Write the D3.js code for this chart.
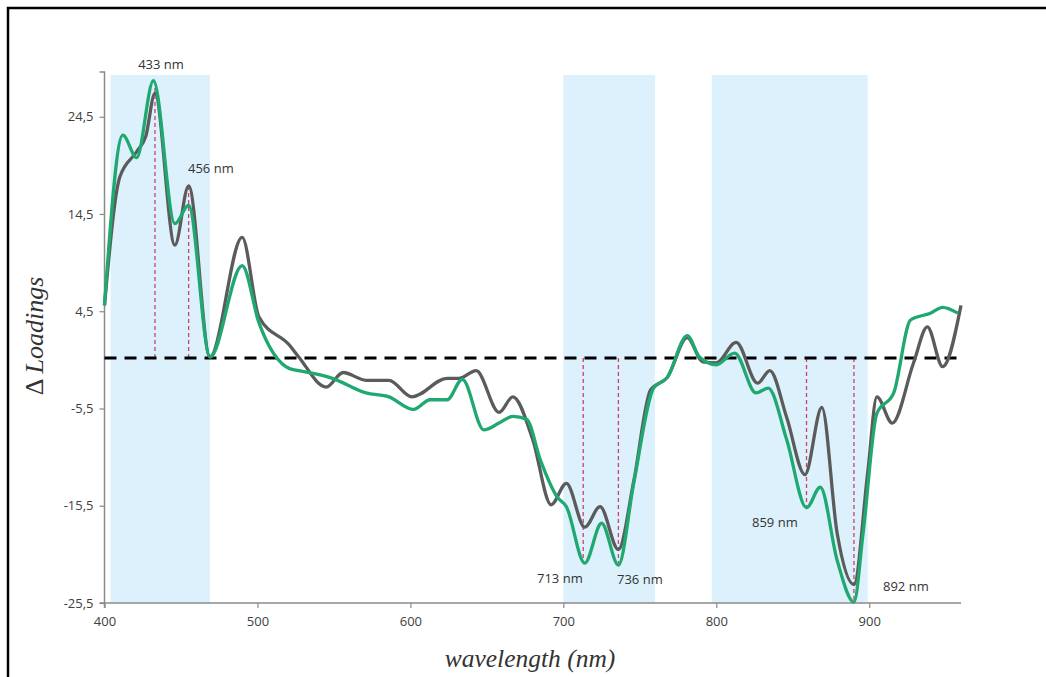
<!DOCTYPE html>
<html>
<head>
<meta charset="utf-8">
<script src="https://cdn.jsdelivr.net/npm/d3@7"></script>
<style>
body { margin:0; background:#fff; }
</style>
</head>
<body>
<svg id="chart" width="1046" height="677"></svg>
<script>
// grey series (knots)
var greyWl  = [400,410,421,427,433,446,455,469,490,501,521,527,545,556,571,586,601,624,632,643,658,667,680,692,702,714,724,736,746,757,768,781,791,800,813,827,835,846,858,869,879,890,899,905,915,929,938,948,960];
var greyVal = [5.1,18.3,20.9,22.5,26.9,11.3,17.4,-0.2,12.1,3.9,1.0,-0.2,-3.3,-1.8,-2.6,-2.6,-4.3,-2.4,-2.4,-1.6,-5.9,-4.3,-8.7,-15.4,-13.2,-17.7,-15.6,-20.0,-13.0,-3.6,-2.3,1.8,-0.7,-0.8,1.3,-2.9,-1.6,-6.4,-12.3,-5.4,-18.3,-23.6,-12.1,-4.3,-7.0,-0.8,2.9,-1.2,5.1];

// green series
var greenWl  = [400,412,421,432,446,455,469,490,501,521,527,549,571,586,602,613,624,634,648,658,667,676,685,696,702,714,725,736,746,759,768,781,789,800,812,826,834,846,859,868,879,890,896,905,916,927,940,948,958];
var greenVal = [5.1,22.6,20.3,28.2,13.5,15.4,-0.2,9.2,3.3,-1.4,-1.6,-2.4,-3.9,-4.3,-5.6,-4.6,-4.6,-2.5,-7.7,-7.0,-6.3,-6.6,-10.8,-14.6,-15.6,-21.4,-17.3,-21.6,-13.2,-3.4,-2.3,2.0,-0.2,-1.0,0.2,-3.9,-3.4,-8.7,-15.7,-13.6,-21.1,-25.4,-18.3,-6.0,-3.9,3.6,4.3,4.9,4.3];

// highlighted regions (nm)
var bandStart = [404,700,797];
var bandEnd   = [469,760,899];

// marked wavelengths and the value where the marker ends
var markWl  = [433,455,713,736,859,890];
var markEnd = [28.0,17.2,-21.2,-21.4,-15.6,-25.2];
var markLabel = ["433 nm","456 nm","713 nm","736 nm","859 nm","892 nm"];

var xTicks = [400,500,600,700,800,900];
var yTicks = [24.5,14.5,4.5,-5.5,-15.5,-25.5];
var refLevel = -0.3;

var sans = "'Open Sans', 'DejaVu Sans', sans-serif";
var serif = "'Liberation Serif', 'DejaVu Serif', serif";

var svg = d3.select("#chart");

// frame (only left and top edge visible in the crop)
svg.append("rect")
  .attr("x",8).attr("y",8)
  .attr("width",1100).attr("height",800)
  .attr("fill","none").attr("stroke","#000").attr("stroke-width",2.5);

var x = d3.scaleLinear().domain([400,960]).range([104.5,961]);
var y = d3.scaleLinear().domain([-25.5,29.1]).range([603,72]);

// bands
var g = svg.append("g");
for (var i = 0; i < bandStart.length; i++) {
  g.append("rect")
    .attr("x", x(bandStart[i]))
    .attr("y", y(28.8))
    .attr("width", x(bandEnd[i]) - x(bandStart[i]))
    .attr("height", y(-25.5) - y(28.8))
    .attr("fill", "#ddf1fc");
}

// axes
var yAxis = d3.axisLeft(y).tickValues(yTicks).tickSize(5).tickPadding(6)
  .tickFormat(function(d){ return String(d).replace(".", ","); });
var xAxis = d3.axisBottom(x).tickValues(xTicks).tickSize(5).tickPadding(9);

var gy = svg.append("g").attr("transform","translate(" + x(400) + ",0)").call(yAxis);
var gx = svg.append("g").attr("transform","translate(0," + y(-25.5) + ")").call(xAxis);
[gx, gy].forEach(function(a){
  a.select(".domain").attr("stroke","#8a8a8a").attr("stroke-width",1.5);
  a.selectAll(".tick line").attr("stroke","#8a8a8a").attr("stroke-width",1.2);
  a.selectAll(".tick text").attr("fill","#404040").style("font-size","13px")
    .style("font-family", sans);
});
gy.select(".domain").attr("d","M-5," + y(29.1) + "H0V" + y(-25.5) + "H-5");
gx.select(".domain").attr("d","M" + x(400) + ",5V0H" + x(960));

// marker lines
for (var k = 0; k < markWl.length; k++) {
  g.append("line")
    .attr("x1", x(markWl[k])).attr("x2", x(markWl[k]))
    .attr("y1", y(refLevel)).attr("y2", y(markEnd[k]))
    .attr("stroke","#d0406a").attr("stroke-width",1.3)
    .attr("stroke-dasharray","4,3");
}

// reference dashed line
svg.append("line")
  .attr("x1", x(400)).attr("x2", x(962))
  .attr("y1", y(refLevel)).attr("y2", y(refLevel))
  .attr("stroke","#000").attr("stroke-width",3)
  .attr("stroke-dasharray","12,8");

var line = d3.line()
  .x(function(d){ return x(d[0]); })
  .y(function(d){ return y(d[1]); })
  .curve(d3.curveMonotoneX);

var greyData = d3.zip(greyWl, greyVal);
var greenData = d3.zip(greenWl, greenVal);

svg.append("path").datum(greyData)
  .attr("d", line).attr("fill","none")
  .attr("stroke","#5b5b5b").attr("stroke-width",3.3).attr("stroke-linejoin","round");
svg.append("path").datum(greenData)
  .attr("d", line).attr("fill","none")
  .attr("stroke","#1fa870").attr("stroke-width",3.3).attr("stroke-linejoin","round");

// labels for marked wavelengths
var labelPos = [[161,69,"middle"],[188,173,"start"],[537,583,"start"],[617,584,"start"],[752,527,"start"],[883,591,"start"]];
for (var m = 0; m < markLabel.length; m++) {
  svg.append("text")
    .attr("x", labelPos[m][0]).attr("y", labelPos[m][1])
    .attr("text-anchor", labelPos[m][2])
    .style("font-family", sans).style("font-size","13px")
    .attr("fill","#333")
    .text(markLabel[m]);
}

// axis titles
svg.append("text")
  .attr("x", 530).attr("y", 667)
  .attr("text-anchor","middle")
  .style("font-family", serif)
  .style("font-style","italic").style("font-size","25.5px").attr("fill","#333")
  .text("wavelength (nm)");

var yt = svg.append("text")
  .attr("transform","translate(43,336) rotate(-90)")
  .attr("text-anchor","middle")
  .style("font-family", serif)
  .style("font-size","26px").attr("fill","#333");
yt.append("tspan").text("Δ ");
yt.append("tspan").style("font-style","italic").text("Loadings");
</script>
</body>
</html>
